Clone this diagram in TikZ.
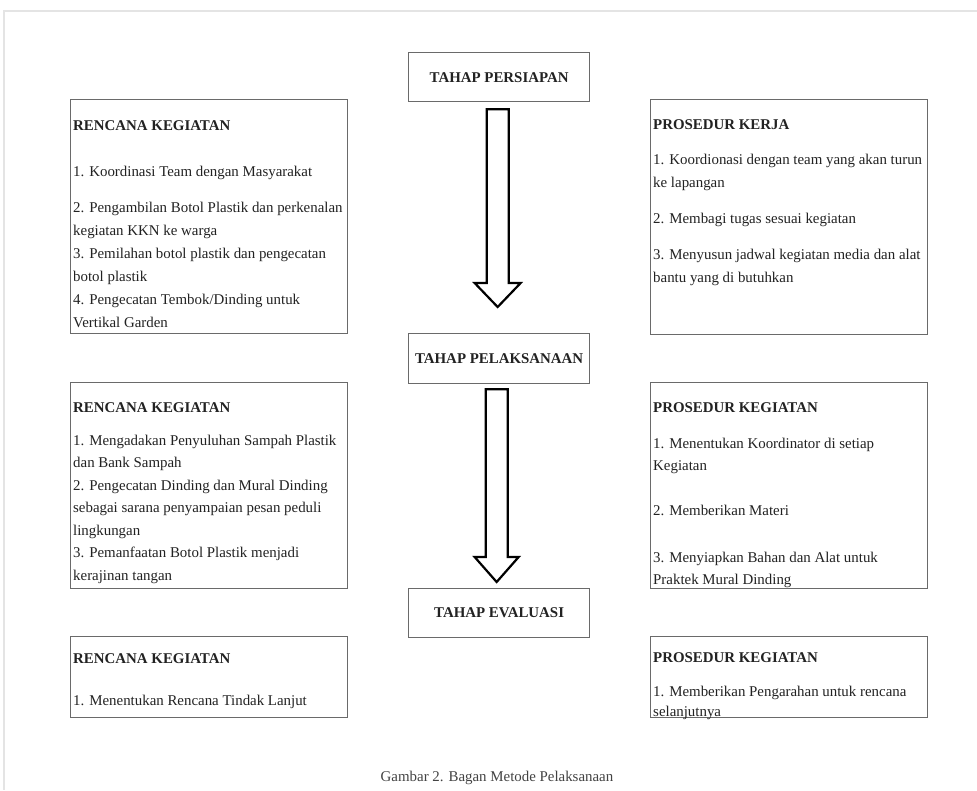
\documentclass[tikz,border=0pt]{standalone}
\usepackage{fontspec}
\setmainfont{Liberation Serif}
\usetikzlibrary{calc}
\definecolor{boxline}{HTML}{6A6A6A}
\definecolor{ink}{HTML}{222222}
\definecolor{framec}{HTML}{E4E4E4}
\newcommand\paneltext[3]{%
  \foreach \yy/\mytxt [count=\i] in {#3}
    \node[txt] (#1-\i) at (#2,\yy) {\mytxt};%
}
\begin{document}
\begin{tikzpicture}[x=1pt,y=-1pt,
  panel/.style={draw=boxline,line width=1.3pt,anchor=north west,inner sep=0pt,minimum width=277pt},
  stage/.style={draw=boxline,line width=1.3pt,anchor=north west,minimum width=181pt,minimum height=49pt,inner sep=0pt,font=\fontsize{14.9}{18}\selectfont\bfseries,text=ink},
  txt/.style={anchor=base west,inner sep=0pt,font=\fontsize{14.9}{18}\selectfont,text=ink},
  blockarr/.style={draw=black,line width=2.2pt,fill=white,line join=miter}]
\useasboundingbox (0,0) rectangle (977,790);
\fill[white] (0,0) rectangle (977,790);
\draw[framec,line width=1.2pt] (4,790) -- (4,11) -- (977,11);

% stage boxes
\node[stage] (tp) at (408,52) {TAHAP PERSIAPAN};
\node[stage,minimum height=50pt] (tl) at (408,333) {TAHAP PELAKSANAAN};
\node[stage] (te) at (408,588) {TAHAP EVALUASI};

% panels
\node[panel,minimum height=234pt] (lk1) at (70,99) {};
\node[panel,minimum height=235pt] (pk1) at (650,99) {};
\node[panel,minimum height=206pt] (lk2) at (70,382) {};
\node[panel,minimum height=206pt] (pk2) at (650,382) {};
\node[panel,minimum height=81pt] (lk3) at (70,636) {};
\node[panel,minimum height=81pt] (pk3) at (650,636) {};

% panel texts
\paneltext{lk1t}{73}{130/{\textbf{RENCANA KEGIATAN}},
  176/{1. Koordinasi Team dengan Masyarakat},
  212/{2. Pengambilan Botol Plastik dan perkenalan},
  235/{kegiatan KKN ke warga},
  258/{3. Pemilahan botol plastik dan pengecatan},
  281/{botol plastik},
  304/{4. Pengecatan Tembok/Dinding untuk},
  327/{Vertikal Garden}}
\paneltext{pk1t}{653}{129/{\textbf{PROSEDUR KERJA}},
  164/{1. Koordionasi dengan team yang akan turun},
  187/{ke lapangan},
  223/{2. Membagi tugas sesuai kegiatan},
  259/{3. Menyusun jadwal kegiatan media dan alat},
  282/{bantu yang di butuhkan}}
\paneltext{lk2t}{73}{412/{\textbf{RENCANA KEGIATAN}},
  445/{1. Mengadakan Penyuluhan Sampah Plastik},
  467/{dan Bank Sampah},
  490/{2. Pengecatan Dinding dan Mural Dinding},
  512/{sebagai sarana penyampaian pesan peduli},
  535/{lingkungan},
  557/{3. Pemanfaatan Botol Plastik menjadi},
  580/{kerajinan tangan}}
\paneltext{pk2t}{653}{412/{\textbf{PROSEDUR KEGIATAN}},
  448/{1. Menentukan Koordinator di setiap},
  470/{Kegiatan},
  515/{2. Memberikan Materi},
  562/{3. Menyiapkan Bahan dan Alat untuk},
  584/{Praktek Mural Dinding}}
\paneltext{lk3t}{73}{663/{\textbf{RENCANA KEGIATAN}},
  705/{1. Menentukan Rencana Tindak Lanjut}}
\paneltext{pk3t}{653}{662/{\textbf{PROSEDUR KEGIATAN}},
  696/{1. Memberikan Pengarahan untuk rencana},
  716/{selanjutnya}}

% block arrows
\draw[blockarr] let \p1=(tp.south), \p2=(tl.north) in
  (\x1-12.5pt,\y1-7pt) -- (\x1+9.5pt,\y1-7pt) -- (\x1+9.5pt,\y2+50pt) -- (\x1+21.5pt,\y2+50pt)
  -- (\x1-1.5pt,\y2+26pt) -- (\x1-24.5pt,\y2+50pt) -- (\x1-12.5pt,\y2+50pt) -- cycle;
\draw[blockarr] let \p1=(tl.south), \p2=(te.north) in
  (\x1-13.5pt,\y1-5pt) -- (\x1+8.5pt,\y1-5pt) -- (\x1+8.5pt,\y2+31pt) -- (\x1+19.5pt,\y2+31pt)
  -- (\x1-2.5pt,\y2+6pt) -- (\x1-24.5pt,\y2+31pt) -- (\x1-13.5pt,\y2+31pt) -- cycle;

% caption
\node[txt,anchor=base,text=ink!85] (cap) at (497,781) {Gambar 2. Bagan Metode Pelaksanaan};
\end{tikzpicture}
\end{document}
